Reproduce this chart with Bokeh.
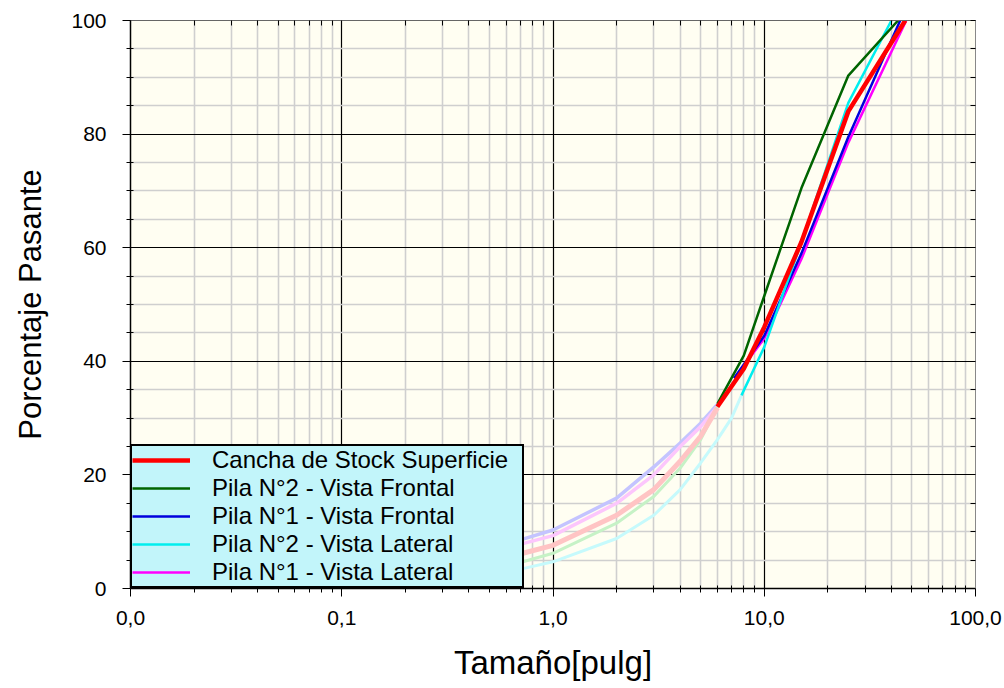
from bokeh.plotting import figure
from bokeh.models import (FixedTicker, LogAxis, LinearAxis, Legend, LegendItem,
                          CustomJSTickFormatter)
from bokeh.embed import file_html
from bokeh.resources import INLINE

# ---------------- data ----------------
x_major = [0.01, 0.1, 1, 10, 100]
x_labels = ["0,0", "0,1", "1,0", "10,0", "100,0"]
x_minor = [m * d for d in [0.01, 0.1, 1, 10] for m in range(2, 10)]
y_major = [0, 20, 40, 60, 80, 100]
y_minor = [v for v in range(5, 100, 5) if v % 20 != 0]

names = ["Cancha de Stock Superficie", "Pila N°2 - Vista Frontal",
         "Pila N°1 - Vista Frontal", "Pila N°2 - Vista Lateral",
         "Pila N°1 - Vista Lateral"]

# extrapolated (faded) part
fine_x = [0.72, 1, 2, 3, 4, 5, 6]
red_fine_y = [6.2, 7.6, 12.9, 17.4, 22.4, 26.8, 31.8]
green_fine_y = [4.7, 6.2, 11.5, 16.2, 21.2, 26.2, 32.0]
blue_fine_y = [8.7, 10.3, 15.9, 21.4, 25.6, 29.1, 32.4]
cyan_fine_x = [0.72, 1, 2, 3, 4, 5, 6, 7, 7.8]
cyan_fine_y = [3.5, 4.7, 8.8, 12.9, 17.4, 22.1, 26.2, 30.0, 34.0]
magenta_fine_y = [7.9, 9.3, 15.0, 20.0, 25.0, 28.5, 32.0]

# measured (solid) part
red_x = [6, 8, 10, 15, 25, 46.5]
red_y = [32, 38.7, 46, 61, 84, 100]
green_x = [6, 8, 10, 15, 25, 43]
green_y = [32.5, 41, 51.5, 70.5, 90.3, 100]
blue_x = [7.2, 10, 15, 25, 44]
blue_y = [37, 44.5, 59, 79.5, 100]
cyan_x = [7.8, 10, 15, 25, 40]
cyan_y = [34, 42.5, 61, 85.5, 100]
magenta_x = [7.2, 10, 15, 25, 47]
magenta_y = [37, 44, 58, 78.5, 100]

# ---------------- figure ----------------
FONT = "Liberation Sans"
p = figure(width=1004, height=688, x_axis_type="log", x_range=(0.01, 100),
           y_range=(0, 100), output_backend="svg", toolbar_location=None,
           min_border_left=130, min_border_right=29, min_border_top=20,
           min_border_bottom=100)
p.background_fill_color = "#fffef2"
p.border_fill_color = "white"
p.outline_line_color = None

xt = FixedTicker(ticks=x_major, minor_ticks=x_minor)
yt = FixedTicker(ticks=y_major, minor_ticks=y_minor)
xfmt = CustomJSTickFormatter(args=dict(vals=x_major, labs=x_labels), code="""
const i = vals.findIndex(v => Math.abs(v - tick) < 1e-6 * v);
return i >= 0 ? labs[i] : '';
""")

xa = p.xaxis[0]
xa.ticker = xt
xa.formatter = xfmt
xa.axis_label = "Tamaño[pulg]"
ya = p.yaxis[0]
ya.ticker = yt
ya.axis_label = "Porcentaje Pasante"

for ax in (xa, ya):
    ax.axis_line_color = "black"
    ax.axis_line_width = 1.5
    ax.major_tick_line_color = "black"
    ax.minor_tick_line_color = "black"
    ax.major_tick_out = 8
    ax.major_tick_in = 0
    ax.minor_tick_out = 4
    ax.minor_tick_in = 3
    ax.major_label_text_font = FONT
    ax.major_label_text_font_size = "21px"
    ax.major_label_text_color = "black"
    ax.axis_label_text_font = FONT
    ax.axis_label_text_font_style = "normal"
    ax.axis_label_text_color = "black"
xa.axis_label_text_font_size = "33px"
ya.axis_label_text_font_size = "31px"
xa.major_label_standoff = 14
xa.axis_label_standoff = 16
ya.major_label_standoff = 16
ya.axis_label_standoff = 20

# top / right frame axes (ticks inside only, no labels)
for side, ax in (("above", LogAxis(ticker=xt, axis_line_color="#666666")),
                 ("right", LinearAxis(ticker=yt, axis_line_color="#888888"))):
    ax.major_label_text_font_size = "1px"
    ax.major_label_text_alpha = 0
    ax.major_label_standoff = 0
    ax.major_tick_in = 5
    ax.major_tick_out = 0
    ax.minor_tick_in = 5
    ax.minor_tick_out = 0
    ax.major_tick_line_color = "black"
    ax.minor_tick_line_color = "black"
    p.add_layout(ax, side)

for g in (p.xgrid[0], p.ygrid[0]):
    g.grid_line_color = "black"
    g.grid_line_width = 1.2
    g.minor_grid_line_color = "#cfcfcf"
    g.minor_grid_line_width = 1.6
p.xgrid[0].ticker = xt
p.ygrid[0].ticker = yt

# faded extrapolations
p.line(fine_x, blue_fine_y, line_color="#c4c4ff", line_width=3.5)
p.line(fine_x, magenta_fine_y, line_color="#fcc6fc", line_width=3.5)
p.line(fine_x, green_fine_y, line_color="#c6f2c6", line_width=3)
p.line(cyan_fine_x, cyan_fine_y, line_color="#c6fafc", line_width=3)
p.line(fine_x, red_fine_y, line_color="#ffc4c4", line_width=5)

# solid parts
r_mag = p.line(magenta_x, magenta_y, line_color="#ff00ff", line_width=2.5)
r_blue = p.line(blue_x, blue_y, line_color="#0000dd", line_width=2.5)
r_cyan = p.line(cyan_x, cyan_y, line_color="#00eeee", line_width=2.5)
r_green = p.line(green_x, green_y, line_color="#006400", line_width=2.5)
r_red = p.line(red_x, red_y, line_color="#ff0000", line_width=4.5)

legend = Legend(items=[LegendItem(label=names[0], renderers=[r_red]),
                       LegendItem(label=names[1], renderers=[r_green]),
                       LegendItem(label=names[2], renderers=[r_blue]),
                       LegendItem(label=names[3], renderers=[r_cyan]),
                       LegendItem(label=names[4], renderers=[r_mag])],
                location=(0, 0), orientation="vertical")
legend.background_fill_color = "#c2f5fa"
legend.background_fill_alpha = 1
legend.border_line_color = "black"
legend.border_line_alpha = 1
legend.border_line_width = 2.5
legend.label_text_font = FONT
legend.label_text_font_size = "24px"
legend.label_text_color = "black"
legend.label_height = 26
legend.glyph_height = 26
legend.glyph_width = 58
legend.label_standoff = 22
legend.label_width = 310
legend.spacing = 0
legend.padding = 0
legend.margin = 0
p.add_layout(legend, "center")

open("out.html", "w").write(file_html(p, INLINE))
